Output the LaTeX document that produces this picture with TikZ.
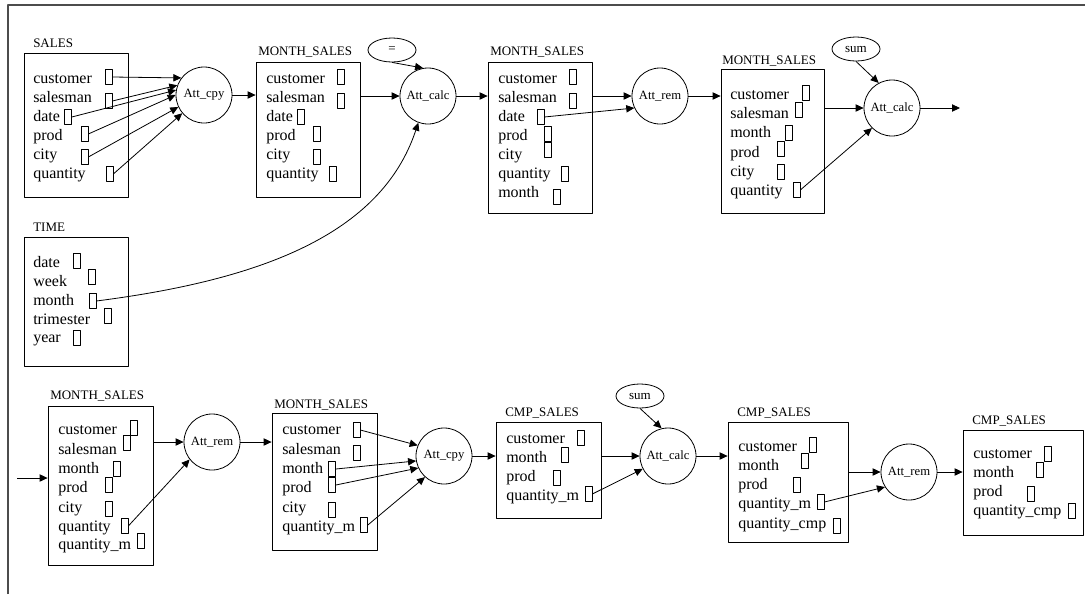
\documentclass[tikz,border=0pt]{standalone}
\usepackage{fontspec}
\setmainfont{Liberation Serif}
\usetikzlibrary{arrows.meta,shapes.geometric,fit}
\begin{document}
\begin{tikzpicture}[x=0.75pt,y=-0.75pt,line join=round,>={Triangle[length=6pt,width=5.5pt]}]
		\tikzset{tbl/.style={draw,inner sep=0pt,line width=0.6pt},
			ttl/.style={anchor=base west,inner sep=0pt,font=\fontsize{9.75}{11}\selectfont},
			fld/.style={anchor=base west,inner sep=0pt,font=\fontsize{12}{14}\selectfont},
			port/.style={draw,inner sep=0pt,minimum width=5.25pt,minimum height=11.25pt,line width=0.5pt},
			op/.style={draw,circle,inner sep=0pt,minimum size=42pt,line width=0.6pt,font=\fontsize{9.5}{11}\selectfont},
			cst/.style={draw,ellipse,inner sep=0pt,minimum width=36pt,minimum height=18pt,line width=0.6pt,font=\fontsize{9.75}{11}\selectfont},
			flow/.style={->,line width=0.6pt}}
		\useasboundingbox (0,0) rectangle (1085,594);
		\draw[gray!60!black,line width=1.5pt] (8,594) -- (8,5) -- (1085,5);
		% tables
		\node[tbl,fit={(24,53) (128,197)}] (sales) {};
		\node[ttl] (sales-ttl) at (33,47) {SALES};
		\foreach \n/\y/\px/\py in {customer/83/108.5/77,salesman/102/108.5/101,date/121/68/117,prod/140/84.5/134,city/159/84.5/157,quantity/178/109.5/174}{
			\node[fld] (sales-\n-txt) at (33,\y) {\n};
			\node[port] (sales-\n) at (\px,\py) {};}
		\node[tbl,fit={(24,237) (128,366)}] (time) {};
		\node[ttl] (time-ttl) at (33,231) {TIME};
		\foreach \n/\y/\px/\py in {date/267/76.5/261,week/286/92/277,month/305/92.5/301,trimester/324/108/316,year/342/76.5/338}{
			\node[fld] (time-\n-txt) at (33,\y) {\n};
			\node[port] (time-\n) at (\px,\py) {};}
		\node[tbl,fit={(256,62) (360,197)}] (ms1) {};
		\node[ttl] (ms1-ttl) at (258,55) {MONTH\_SALES};
		\foreach \n/\y/\px/\py in {customer/83/340.5/77,salesman/102/340.5/101,date/121/300.5/117,prod/140/316.5/134,city/159/316.5/157,quantity/178/332.5/174}{
			\node[fld] (ms1-\n-txt) at (266,\y) {\n};
			\node[port] (ms1-\n) at (\px,\py) {};}
		\node[tbl,fit={(488,62) (592,213)}] (ms2) {};
		\node[ttl] (ms2-ttl) at (490,55) {MONTH\_SALES};
		\foreach \n/\y/\px/\py in {customer/83/572.5/77,salesman/102/572.5/101,date/121/540.5/117,prod/140/548/134,city/159/548/150,quantity/178/564.5/174,month/197/556.5/197}{
			\node[fld] (ms2-\n-txt) at (498,\y) {\n};
			\node[port] (ms2-\n) at (\px,\py) {};}
		\node[tbl,fit={(721,69) (824,213)}] (ms3) {};
		\node[ttl] (ms3-ttl) at (722,64) {MONTH\_SALES};
		\foreach \n/\y/\px/\py in {customer/99/805.5/93,salesman/118/799/110,month/137/788.5/133,prod/157/781/149,city/176/781/172,quantity/195/796.5/190}{
			\node[fld] (ms3-\n-txt) at (730,\y) {\n};
			\node[port] (ms3-\n) at (\px,\py) {};}
		\node[tbl,fit={(48,406) (153,565)}] (ms4) {};
		\node[ttl] (ms4-ttl) at (50,399) {MONTH\_SALES};
		\foreach \n/\t/\y/\px/\py in {customer/customer/434/133.5/428,salesman/salesman/454/127/443,month/month/473/116.5/469,prod/prod/492/109/485,city/city/512/109/509,quantity/quantity/531/124.5/526,qm/quantity\_m/549/140.5/541}{
			\node[fld] (ms4-\n-txt) at (58,\y) {\t};
			\node[port] (ms4-\n) at (\px,\py) {};}
		\node[tbl,fit={(272,413) (377,550)}] (ms5) {};
		\node[ttl] (ms5-ttl) at (274,408) {MONTH\_SALES};
		\foreach \n/\t/\y/\px/\py in {customer/customer/434/356.5/430,salesman/salesman/454/356.5/453,month/month/473/332/469,prod/prod/492/332/485,city/city/512/332/510,qm/quantity\_m/531/364/525}{
			\node[fld] (ms5-\n-txt) at (282,\y) {\t};
			\node[port] (ms5-\n) at (\px,\py) {};}
		\node[tbl,fit={(496,422) (601,518)}] (cs1) {};
		\node[ttl] (cs1-ttl) at (505,416) {CMP\_SALES};
		\foreach \n/\t/\y/\px/\py in {customer/customer/443/580.5/438,month/month/462/564.5/455,prod/prod/481/556.5/478,qm/quantity\_m/500/588.5/494}{
			\node[fld] (cs1-\n-txt) at (506,\y) {\t};
			\node[port] (cs1-\n) at (\px,\py) {};}
		\node[tbl,fit={(728,422) (848,542)}] (cs2) {};
		\node[ttl] (cs2-ttl) at (737,416) {CMP\_SALES};
		\foreach \n/\t/\y/\px/\py in {customer/customer/451/812.5/445,month/month/470/804.5/461,prod/prod/489/796.5/485,qm/quantity\_m/508/820.5/502,qc/quantity\_cmp/528/836.5/526}{
			\node[fld] (cs2-\n-txt) at (738,\y) {\t};
			\node[port] (cs2-\n) at (\px,\py) {};}
		\node[tbl,fit={(963,430) (1083,535)}] (cs3) {};
		\node[ttl] (cs3-ttl) at (972,424) {CMP\_SALES};
		\foreach \n/\t/\y/\px/\py in {customer/customer/458/1047.5/454,month/month/477/1039.5/470,prod/prod/496/1031/494,qc/quantity\_cmp/515/1071.5/511}{
			\node[fld] (cs3-\n-txt) at (973,\y) {\t};
			\node[port] (cs3-\n) at (\px,\py) {};}
		% operators
		\node[op] (cpy1) at (204,95) {Att\_cpy};
		\node[op] (calc1) at (428,96) {Att\_calc};
		\node[op] (rem1) at (660,96) {Att\_rem};
		\node[op] (calc2) at (892,108) {Att\_calc};
		\node[op] (rem2) at (212,442) {Att\_rem};
		\node[op] (cpy2) at (444,456) {Att\_cpy};
		\node[op] (calc3) at (668,456) {Att\_calc};
		\node[op] (rem3) at (909,472) {Att\_rem};
		\node[cst] (eq) at (392,50) {=};
		\node[cst] (sum1) at (856,49) {sum};
		\node[cst] (sum2) at (640,396) {sum};
		\coordinate (in) at (17,478);
		\coordinate (out) at (960,108);
		% top row
		\draw[flow] (sales-customer.east) -- (cpy1.143);
		\draw[flow] (sales-salesman.east) -- (cpy1.160);
		\draw[flow] (sales-date.east) -- (cpy1.170);
		\draw[flow] (sales-prod.east) -- (cpy1.180);
		\draw[flow] (sales-city.east) -- (cpy1.205);
		\draw[flow] (sales-quantity.east) -- (cpy1.220);
		\draw[flow] (cpy1) -- (ms1.west |- cpy1);
		\draw[flow] (ms1.east |- calc1) -- (calc1);
		\draw[flow] (eq.south) -- (calc1.100);
		\draw[flow] (time-month.east) .. controls +(164,-21) and +(-37,112) .. (calc1.250);
		\draw[flow] (calc1) -- (ms2.west |- calc1);
		\draw[flow] (ms2.east |- rem1) -- (rem1);
		\draw[flow] (ms2-date.east) -- (rem1.205);
		\draw[flow] (rem1) -- (ms3.west |- rem1);
		\draw[flow] (ms3.east |- calc2) -- (calc2);
		\draw[flow] (sum1.south) -- (calc2.118);
		\draw[flow] (ms3-quantity.east) -- (calc2.225);
		\draw[flow] (calc2) -- (out);
		% bottom row
		\draw[flow] (in) -- (ms4.west |- in);
		\draw[flow] (ms4.east |- rem2) -- (rem2);
		\draw[flow] (ms4-quantity.east) -- (rem2.218);
		\draw[flow] (rem2) -- (ms5.west |- rem2);
		\draw[flow] (ms5-customer.east) -- (cpy2.158);
		\draw[flow] (ms5-month.east) -- (cpy2.190);
		\draw[flow] (ms5-prod.east) -- (cpy2.205);
		\draw[flow] (ms5-qm.east) -- (cpy2.228);
		\draw[flow] (cpy2) -- (cs1.west |- cpy2);
		\draw[flow] (cs1.east |- calc3) -- (calc3);
		\draw[flow] (sum2.south) -- (calc3.103);
		\draw[flow] (cs1-qm.east) -- (calc3.207);
		\draw[flow] (calc3) -- (cs2.west |- calc3);
		\draw[flow] (cs2.east |- rem3) -- (rem3);
		\draw[flow] (cs2-qm.east) -- (rem3.212);
		\draw[flow] (rem3) -- (cs3.west |- rem3);
\end{tikzpicture}
\end{document}
